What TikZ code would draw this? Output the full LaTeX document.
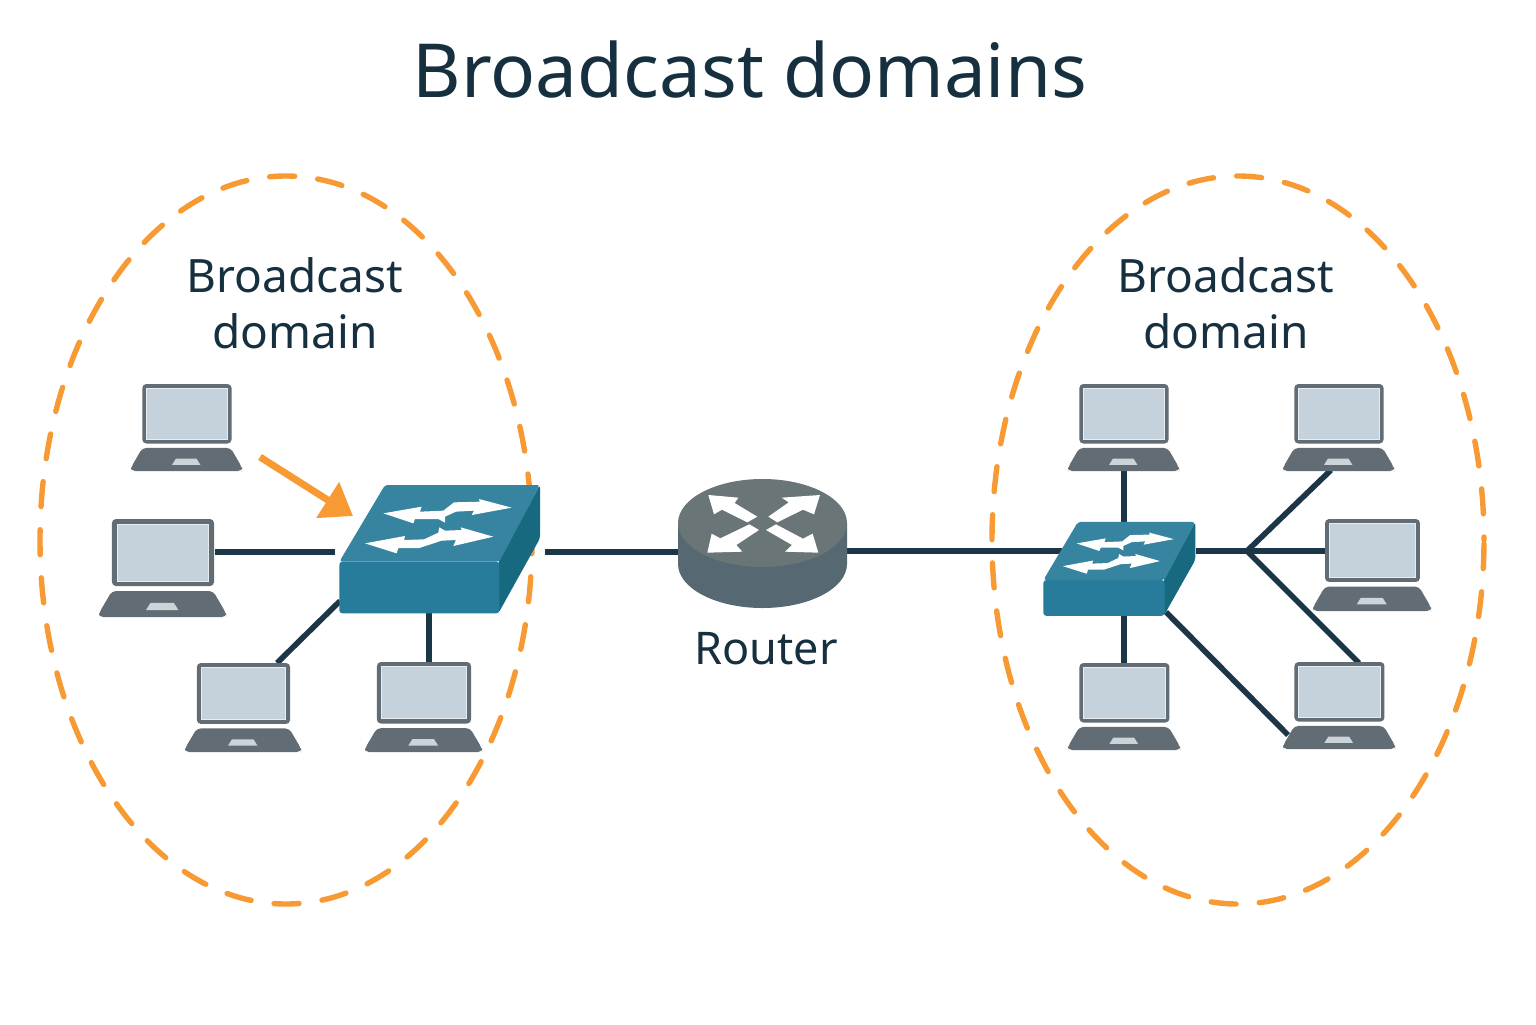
\documentclass[tikz,border=0pt]{standalone}
\usepackage{fontspec}
\setmainfont{Noto Sans}
\usetikzlibrary{arrows.meta,shapes.geometric,backgrounds}
\definecolor{ink}{HTML}{16303F}
\definecolor{wire}{HTML}{1B3646}
\definecolor{ringorange}{HTML}{F89A34}
\definecolor{swtop}{HTML}{36849F}
\definecolor{swfront}{HTML}{277C9B}
\definecolor{swside}{HTML}{16697F}
\definecolor{rtop}{HTML}{6A7578}
\definecolor{rside}{HTML}{566871}
\definecolor{lapdark}{HTML}{626C74}
\definecolor{lapscreen}{HTML}{C5D2DB}
\definecolor{lapedge}{HTML}{E6ECEF}
\definecolor{lappad}{HTML}{CBD4D9}
\tikzset{
  x=0.5pt,y=-0.5pt,
  domainring/.style={ellipse,draw=ringorange,line width=2.7pt,dash pattern=on 12.5pt off 11.6pt,line cap=round,inner sep=0pt,minimum width=246pt,minimum height=364pt},
  wirel/.style={draw=wire,line width=2.8pt},
  devbox/.style={inner sep=0pt,outer sep=0pt,rectangle},
  titlet/.style={text=ink,font=\fontsize{37.3}{44}\selectfont,anchor=base},
  labelt/.style={text=ink,font=\fontsize{23}{28}\selectfont,anchor=base},
  routert/.style={text=ink,font=\fontsize{22.5}{28}\selectfont,anchor=base},
  whitearrow/.style={fill=white,draw=none},
}
% name, left, top, right, bottom
\newcommand{\laptopdev}[5]{%
  \node[devbox,minimum width={(#4-#2)*0.5pt},minimum height={(#5-#3)*0.5pt}] (#1) at ({(#2+#4)/2},{(#3+#5)/2}) {};
  \begin{scope}[shift={(#2,#3)},xscale={#4-#2},yscale={#5-#3}]
    \fill[lapdark,rounded corners=2pt] (.102,0) rectangle (.906,.684);
    \fill[lapscreen,draw=lapedge,line width=.5pt] (.142,.051) rectangle (.866,.633);
    \fill[lapdark,rounded corners=2pt] (.102,.735) -- (.898,.735) -- (1,.96) -- (1,1) -- (0,1) -- (0,.96) -- cycle;
    \fill[lappad] (.405,.857) -- (.59,.857) -- (.625,.929) -- (.37,.929) -- cycle;
  \end{scope}}
% name, x0, y0, scale, front bottom, side corner
\newcommand{\switchdev}[6]{%
  \begin{scope}[shift={(#2,#3)},scale={#4/3}]
    \node[devbox,minimum width={301pt*#4/3},minimum height={(#5-45)*0.5pt*#4/3}] (#1) at (329,{(#5+45)/2}) {};
    \fill[swside,rounded corners=1.5pt] (630,45) -- (630,#6) -- (505,#5) -- (505,275) -- cycle;
    \fill[swfront,rounded corners=1.5pt] (28,275) -- (508,275) -- (508,#5) -- (28,#5) -- cycle;
    \fill[swtop,rounded corners=1.5pt] (165,45) -- (630,45) -- (508,275) -- (28,275) -- cycle;
    \fill[whitearrow] (160,130) -- (275,110) -- (270,125) -- (340,122) -- (372,97) -- (450,95) -- (447,87) -- (545,113) -- (425,135) -- (432,122) -- (378,125) -- (345,140) -- (345,158) -- (325,147) -- (255,147) -- (250,160) -- cycle;
    \fill[whitearrow] (105,220) -- (225,198) -- (222,210) -- (282,208) -- (325,188) -- (328,172) -- (345,182) -- (395,180) -- (392,172) -- (490,200) -- (370,228) -- (378,210) -- (335,212) -- (268,234) -- (205,234) -- (200,250) -- cycle;
  \end{scope}}
\begin{document}
\begin{tikzpicture}
\useasboundingbox (0,0) rectangle (1536,1024);
\fill[white] (0,0) rectangle (1536,1024);

% rings
\node[domainring,dash phase=3.5pt] (ringL) at (286,540) {};
\node[domainring,dash phase=11pt] (ringR) at (1238,540) {};

% texts
\node[titlet] (title) at (750,97) {Broadcast domains};
\node[labelt] (labelLa) at (295,292) {Broadcast};
\node[labelt] (labelLb) at (295,348) {domain};
\node[labelt] (labelRa) at (1226,292) {Broadcast};
\node[labelt] (labelRb) at (1226,348) {domain};
\node[routert] (routerlabel) at (766,664) {Router};

% connector ends
\coordinate (p2) at (215,552);
\coordinate (s2) at (335,552);
\coordinate (p3) at (277,663);
\coordinate (s3) at (340,601);
\coordinate (p4) at (429,662);
\coordinate (s4) at (429,613);
\coordinate (s1r) at (545,552);
\coordinate (rl) at (680,552);
\coordinate (rr) at (847,551);
\coordinate (t2l) at (1062,551);
\coordinate (q1) at (1124,470);
\coordinate (t1) at (1124,522);
\coordinate (q4) at (1124,663);
\coordinate (t4) at (1124,614);
\coordinate (t2r) at (1196,551);
\coordinate (hub) at (1247,551);
\coordinate (q2) at (1331,470);
\coordinate (q3) at (1325,551);
\coordinate (q5) at (1359,663);
\coordinate (t5) at (1166,612);
\coordinate (q6) at (1288,735);
\coordinate (arrowstart) at (260,457);
\coordinate (arrowtip) at (353,516);

\draw[wirel] (p2) -- (s2);
\draw[wirel] (p3) -- (s3);
\draw[wirel] (p4) -- (s4);
\draw[wirel] (s1r) -- (rl);
\draw[wirel] (rr) -- (t2l);
\draw[wirel] (q1) -- (t1);
\draw[wirel] (q4) -- (t4);
\draw[wirel] (t2r) -- (hub);
\draw[wirel] (hub) -- (q2);
\draw[wirel] (hub) -- (q3);
\draw[wirel] (hub) -- (q5);
\draw[wirel] (t5) -- (q6);

% router
\node[devbox,minimum width=84.5pt,minimum height=64.5pt] (router) at (762.5,543.5) {};
\fill[rside] (678,523) -- (678,564) arc[start angle=180,end angle=360,x radius=84.5,y radius=-44] -- (847,523) -- cycle;
\fill[rtop] (762.5,523) ellipse[x radius=84.5,y radius=44];
\begin{scope}[shift={(700,485)},scale=1/3]
  \fill[whitearrow] (25,30) -- (115,38) -- (104,54) -- (172,95) -- (142,112) -- (66,74) -- (42,88) -- cycle;
  \fill[whitearrow] (360,30) -- (245,38) -- (266,52) -- (205,95) -- (232,112) -- (309,74) -- (342,88) -- cycle;
  \fill[whitearrow] (22,203) -- (35,146) -- (61,160) -- (148,118) -- (177,135) -- (109,180) -- (127,200) -- cycle;
  \fill[whitearrow] (355,203) -- (255,200) -- (276,180) -- (198,135) -- (228,118) -- (309,161) -- (338,146) -- cycle;
\end{scope}

% switches
\switchdev{swL}{330}{470}{1}{430}{205}
\switchdev{swR}{1036.3}{510.6}{0.757}{417}{196}

% laptops
\laptopdev{lapA}{131}{384}{242}{471}
\laptopdev{lapB}{99}{519}{226}{617}
\laptopdev{lapC}{185}{663}{301}{752}
\laptopdev{lapD}{365}{662}{482}{752}
\laptopdev{lapE}{1068}{384}{1179}{471}
\laptopdev{lapF}{1283}{384}{1394}{471}
\laptopdev{lapG}{1313}{519}{1431}{611}
\laptopdev{lapH}{1068}{663}{1180}{750}
\laptopdev{lapI}{1283}{662}{1395}{749}

% orange arrow
\draw[ringorange,line width=3.5pt,-{Triangle[length=15pt,width=20.5pt]}] (arrowstart) -- (arrowtip);
\end{tikzpicture}
\end{document}
